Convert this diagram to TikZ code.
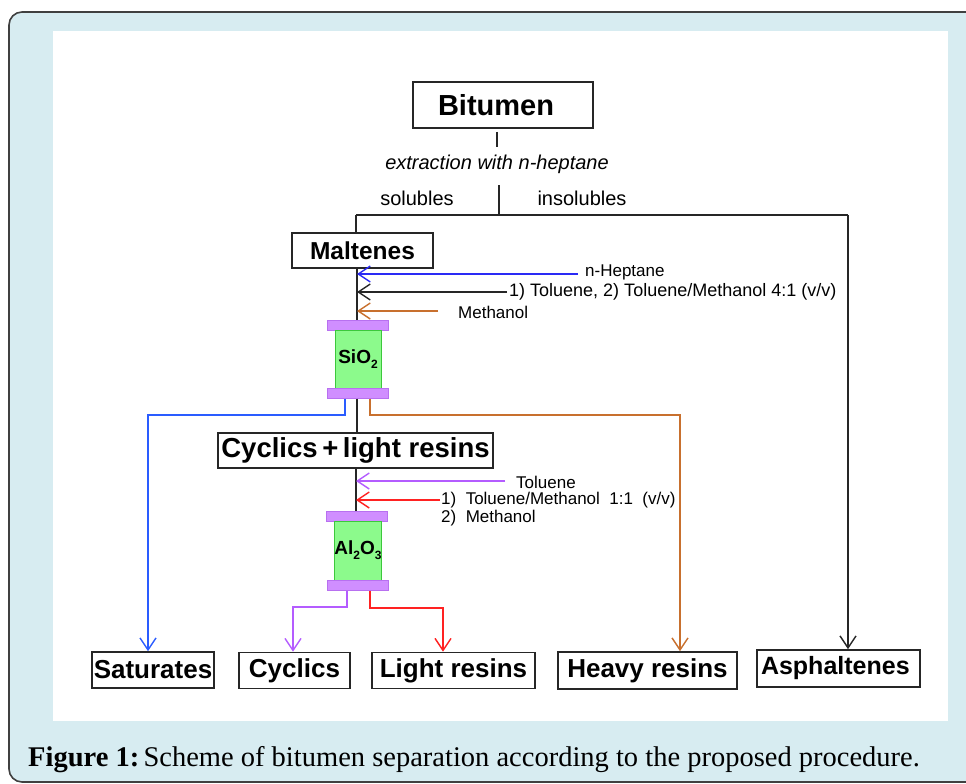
\documentclass[tikz,border=0pt]{standalone}
\usepackage{fontspec}
\setmainfont{Liberation Serif}
\newfontfamily\arialf{Liberation Sans}
\usetikzlibrary{arrows.meta}
\definecolor{framebg}{HTML}{D7ECF1}
\definecolor{blueA}{HTML}{2A2AF5}
\definecolor{blueB}{HTML}{2A5CFF}
\definecolor{brownA}{HTML}{C8702E}
\definecolor{purpA}{HTML}{B45CFF}
\definecolor{redA}{HTML}{FF2222}
\definecolor{colgreen}{HTML}{8CFA8C}
\definecolor{colgreenD}{HTML}{3CC83C}
\definecolor{colpurp}{HTML}{D08EFF}
\definecolor{colpurpD}{HTML}{B870F0}
\newcommand{\lowsub}[1]{\raisebox{-5pt}{\fontsize{12}{12}\selectfont #1}}
\begin{document}
\begin{tikzpicture}[x=1pt,y=-1pt,
  box/.style={draw=black!85,line width=1.7pt,rectangle,inner sep=0pt,font=\arialf\bfseries\fontsize{26}{28}\selectfont},
  lbl/.style={font=\arialf\fontsize{17}{19}\selectfont,inner sep=0pt},
  lblb/.style={font=\arialf\fontsize{20}{22}\selectfont,inner sep=0pt},
  ln/.style={line width=1.4pt,black!85},
  arr/.style={line width=1.4pt,-{Straight Barb[length=12pt,width=16pt,line width=1.4pt]}},
  colcap/.style={rectangle,draw=colpurpD,fill=colpurp,line width=1pt,minimum width=61pt,minimum height=10pt,inner sep=0pt},
  colbody/.style={rectangle,draw=colgreenD,fill=colgreen,line width=1pt,minimum width=46pt,inner sep=0pt,font=\arialf\bfseries\fontsize{19}{21}\selectfont}
]
\useasboundingbox (0,0) rectangle (966,784);
% frame
\draw[draw=black!75,line width=1.6pt,fill=framebg,rounded corners=13pt] (9,12) rectangle (990,782);
\fill[white] (53,31) rectangle (948,721);

% top
\node[box,minimum width=180pt,minimum height=46pt,font=\arialf\bfseries\fontsize{29}{31}\selectfont] (bit) at (503,105) {\hspace*{-14pt}Bitumen};
\coordinate (b1) at (497,147);
\draw[ln] (bit.south -| b1) ++(0,3) -- (b1);
\node[lblb,font=\arialf\itshape\fontsize{20}{22}\selectfont] (ext) at (497,164) {extraction with n-heptane};
\node[lblb] (sol) at (417,198) {solubles};
\node[lblb] (insol) at (582,198) {insolubles};
\coordinate (s0) at (499,185);
\coordinate (sM) at (499,215);
\coordinate (sL) at (356,215);
\coordinate (sR) at (848,215);
\draw[ln] (s0) -- (sM);
\draw[ln] (sL) -- (sR);

\node[box,minimum width=141pt,minimum height=35pt,font=\arialf\bfseries\fontsize{24.5}{26}\selectfont] (mal) at (362.5,250.5) {Maltenes};
\draw[ln] (sL) -- (mal.north -| sL);

% bottom boxes
\node[box,minimum width=122pt,minimum height=36pt] (sat) at (153,670) {Saturates};
\node[box,minimum width=111pt,minimum height=36pt] (cyc) at (294.5,670.5) {Cyclics};
\node[box,minimum width=163pt,minimum height=36pt] (lr) at (453.5,670.5) {Light resins};
\node[box,minimum width=179pt,minimum height=37pt] (hr) at (647.5,670.5) {Heavy resins};
\node[box,minimum width=163pt,minimum height=37pt,font=\arialf\bfseries\fontsize{25}{27}\selectfont] (asp) at (838.5,668.5) {\makebox[155pt][l]{Asphaltenes}};
\draw[arr,black!85] (sR) -- (asp.north -| sR);

% SiO2 column
\coordinate (tr) at (357,0);
\node[colcap] (sc1) at (357.5,325) {};
\node[colbody,minimum height=58pt] (sb) at (358,359) {SiO\lowsub{2}};
\node[colcap] (sc2) at (357.5,393) {};
\draw[ln] (mal.south -| tr) -- (sc1.north -| tr);

\coordinate (hA) at (578,274);
\coordinate (hB) at (507,292);
\coordinate (hC) at (438,311);
\draw[arr,blueA] (hA) -- (hA -| tr);
\draw[arr,black!85] (hB) -- (hB -| tr);
\draw[arr,brownA] (hC) -- (hC -| tr);
\node[lbl,anchor=west] (lA) at (585,272) {n-Heptane};
\node[lbl,anchor=west,font=\arialf\fontsize{18}{19}\selectfont] (lB) at (509,292) {1) Toluene, 2) Toluene/Methanol 4:1 (v/v)};
\node[lbl,anchor=west] (lC) at (458,312) {Methanol};

\node[box,minimum width=275pt,minimum height=35pt,font=\arialf\bfseries\fontsize{27.5}{29}\selectfont] (clr) at (355.5,450.5) {Cyclics\,+\,light resins};

\coordinate (bx) at (345,0);
\coordinate (bt) at (148,415);
\draw[arr,blueB] (sc2.south -| bx) |- (bt) -- (sat.north -| bt);
\draw[ln] (sc2.south -| tr) -- (clr.north -| tr);
\coordinate (rx) at (370,0);
\coordinate (rt) at (680,415);
\draw[arr,brownA] (sc2.south -| rx) |- (rt) -- (hr.north -| rt);

% Al2O3 column
\node[colcap] (ac1) at (357,516) {};
\node[colbody,minimum height=59pt] (ab) at (358,550.5) {Al\lowsub{2}O\lowsub{3}};
\node[colcap] (ac2) at (357.5,585) {};
\coordinate (tr2) at (356,0);
\draw[ln] (clr.south -| tr2) -- (ac1.north -| tr2);
\coordinate (tA) at (505,481);
\coordinate (tB) at (440,500);
\draw[arr,purpA] (tA) -- (tA -| tr2);
\draw[arr,redA] (tB) -- (tB -| tr2);
\node[lbl,anchor=west] (lD) at (516,482) {Toluene};
\node[lbl,anchor=west] (lE) at (441,500) {1)\ \ Toluene/Methanol\ \ 1:1\ \ (v/v)};
\node[lbl,anchor=west] (lF) at (441,518) {2)\ \ Methanol};

\coordinate (px) at (347,0);
\coordinate (pt) at (293,607);
\draw[arr,purpA] (ac2.south -| px) |- (pt) -- (cyc.north -| pt);
\coordinate (qx) at (370,0);
\coordinate (qt) at (443,608);
\draw[arr,redA] (ac2.south -| qx) |- (qt) -- (lr.north -| qt);

% caption
\node[anchor=west,inner sep=0pt,font=\fontsize{28.5}{30}\selectfont] (capt) at (28,760) {\textbf{Figure 1:}\hspace{0.15em}Scheme of bitumen separation according to the proposed procedure.};
\end{tikzpicture}
\end{document}
